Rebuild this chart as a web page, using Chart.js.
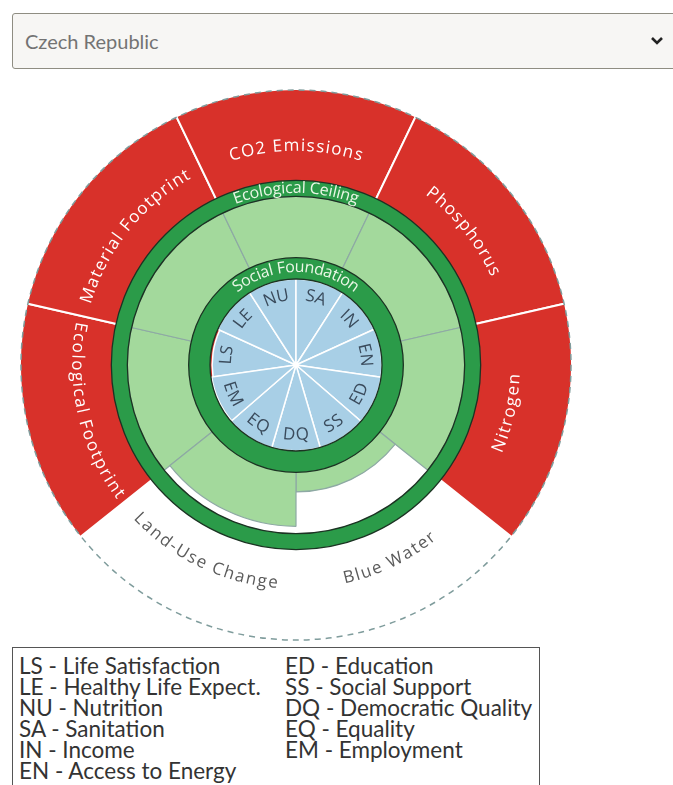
<!DOCTYPE html>
<html>
<head>
<meta charset="utf-8">
<title>Doughnut - Czech Republic</title>
<script src="https://cdn.jsdelivr.net/npm/chart.js@4.4.1/dist/chart.umd.min.js"></script>
<style>
  body { margin: 0; background: #fff; font-family: Lato, "Open Sans", sans-serif; }
  .page { position: relative; width: 673px; height: 785px; overflow: hidden; }
  .country { position: absolute; left: 12px; top: 13px; width: 668px; height: 56px; box-sizing: border-box;
    border: 1.5px solid #8f8d82; border-radius: 3px; background: #f7f6f4; }
  .country span { position: absolute; left: 12px; top: 15px; font-size: 20px; color: #737373; }
  .country svg { position: absolute; left: 637px; top: 21px; }
  #donut { position: absolute; left: 17px; top: 86px; }
  .legend { position: absolute; left: 12px; top: 647px; width: 528px; height: 160px; box-sizing: border-box;
    border: 1px solid #555; padding: 7px 0 0 6px; display: flex; font-size: 22.5px; line-height: 21px; color: #333; }
  .legend .col { flex: none; white-space: nowrap; }
  #legendA { width: 266px; }
</style>
</head>
<body>
<div class="page">
  <div class="country">
    <span>Czech Republic</span>
    <svg width="14" height="12" viewBox="0 0 14 12"><path d="M2 3 L7 8 L12 3" fill="none" stroke="#222" stroke-width="2.6"/></svg>
  </div>
  <canvas id="donut" width="558" height="558"></canvas>
  <div class="legend"><div class="col" id="legendA"></div><div class="col" id="legendB"></div></div>
</div>
<script>
// social foundation, clockwise starting from Life Satisfaction
const socialCodes = ['LS', 'LE', 'NU', 'SA', 'IN', 'EN', 'ED', 'SS', 'DQ', 'EQ', 'EM'];
const socialNames = ['Life Satisfaction', 'Healthy Life Expect.', 'Nutrition', 'Sanitation', 'Income',
  'Access to Energy', 'Education', 'Social Support', 'Democratic Quality', 'Equality', 'Employment'];
// achieved / threshold (1 = social foundation reached)
const socialValues = [0.975, 1.06, 1.1, 1.05, 1.15, 1.1, 1.2, 1.04, 1.08, 1.25, 0.99];

// ecological ceiling, clockwise starting from Ecological Footprint
const ecoNames = ['Ecological Footprint', 'Material Footprint', 'CO2 Emissions', 'Phosphorus',
  'Nitrogen', 'Blue Water', 'Land-Use Change'];
// use / boundary (1 = ecological ceiling)
const ecoValues = [3.2, 3.5, 4.8, 3.0, 3.9, 0.32, 0.88];

const RED = '#d8312a';
const GREEN_DARK = '#2b9b49';
const GREEN_LIGHT = '#a3d99c';
const BLUE = '#a8cfe6';
const NONE = 'rgba(0,0,0,0)';

const ecoMin = -1.75, ecoMax = 2.75;   // 0 sits on the social ring, 1 on the ceiling ring
const socialMax = 3.21;
const socialStart = 360 - 3 * 360 / socialCodes.length;
const ecoStart = 360 - 360 / 14 - 2 * 360 / ecoNames.length;

// legend
const half = 6;
document.getElementById('legendA').innerHTML = socialCodes.slice(0, half)
  .map((c, i) => `<div>${c} - ${socialNames[i]}</div>`).join('');
document.getElementById('legendB').innerHTML = socialCodes.slice(half)
  .map((c, i) => `<div>${c} - ${socialNames[i + half]}</div>`).join('');

function arcText(ctx, text, cx, cy, r, angle, flip, spacing) {
  const chars = [...text];
  const widths = chars.map(ch => ctx.measureText(ch).width);
  const total = widths.reduce((a, b) => a + b, 0) + spacing * (chars.length - 1);
  const dir = flip ? -1 : 1;
  let a = angle - dir * total / (2 * r);
  ctx.textAlign = 'center';
  ctx.textBaseline = 'middle';
  chars.forEach((ch, i) => {
    const mid = a + dir * (widths[i] / 2) / r;
    ctx.save();
    ctx.translate(cx + r * Math.sin(mid), cy - r * Math.cos(mid));
    ctx.rotate(mid + (flip ? Math.PI : 0));
    ctx.fillText(ch, 0, 0);
    ctx.restore();
    a += dir * (widths[i] + spacing) / r;
  });
}

// arc element -> angle measured clockwise from 12 o'clock
const midAngle = el => (el.startAngle + el.endAngle) / 2 + Math.PI / 2;
const isFlipped = a => {
  const n = ((a % (2 * Math.PI)) + 2 * Math.PI) % (2 * Math.PI);
  return n > Math.PI / 2 && n < 3 * Math.PI / 2;
};

function ring(ctx, cx, cy, r1, r2) {
  ctx.beginPath();
  ctx.arc(cx, cy, r2, 0, Math.PI * 2);
  ctx.arc(cx, cy, r1, 0, Math.PI * 2, true);
  ctx.fillStyle = GREEN_DARK;
  ctx.fill();
  ctx.strokeStyle = '#1c3323';
  ctx.lineWidth = 1.3;
  [r1, r2].forEach(r => { ctx.beginPath(); ctx.arc(cx, cy, r, 0, Math.PI * 2); ctx.stroke(); });
}

const decor = {
  id: 'decor',
  afterDatasetsDraw(chart) {
    const ctx = chart.ctx;
    const rs = chart.scales.rs, re = chart.scales.re;
    const cx = re.xCenter, cy = re.yCenter;
    const outer = re.getDistanceFromCenterForValue(ecoMax);
    const ceilIn = re.getDistanceFromCenterForValue(1);
    const ceilOut = ceilIn + 16;
    const foundIn = rs.getDistanceFromCenterForValue(1);
    const foundOut = re.getDistanceFromCenterForValue(0);
    ctx.save();

    ctx.beginPath();
    ctx.setLineDash([6, 5]);
    ctx.strokeStyle = '#7f9c9c';
    ctx.lineWidth = 1.5;
    ctx.arc(cx, cy, outer - 1, 0, Math.PI * 2);
    ctx.stroke();
    ctx.setLineDash([]);

    ring(ctx, cx, cy, ceilIn, ceilOut);
    ring(ctx, cx, cy, foundIn, foundOut);

    // white hub where the social wedges meet
    ctx.beginPath();
    ctx.arc(cx, cy, 2.5, 0, Math.PI * 2);
    ctx.fillStyle = '#ffffff';
    ctx.fill();

    ctx.fillStyle = '#eaf7e6';
    ctx.font = '16px "Open Sans"';
    arcText(ctx, 'Ecological Ceiling', cx, cy, (ceilIn + ceilOut) / 2, 0, false, 0);
    arcText(ctx, 'Social Foundation', cx, cy, (foundIn + foundOut) / 2 + 1, 0, false, 0);

    ctx.font = '17px "Open Sans"';
    chart.getDatasetMeta(3).data.forEach((el, i) => {
      const a = midAngle(el);
      ctx.fillStyle = ecoValues[i] > 1 ? '#fff' : '#5b5b5b';
      arcText(ctx, ecoNames[i], cx, cy, 219, a, isFlipped(a), 1.5);
    });

    ctx.font = '17px "Open Sans"';
    ctx.fillStyle = '#3a4b5c';
    chart.getDatasetMeta(0).data.forEach((el, i) => {
      const a = midAngle(el);
      arcText(ctx, socialCodes[i], cx, cy, 70, a, isFlipped(a), 0.5);
    });
    ctx.restore();
  }
};

new Chart(document.getElementById('donut'), {
  type: 'polarArea',
  data: {
    labels: socialCodes,
    datasets: [
      {
        label: 'Social foundation', rAxisID: 'rs', order: 0,
        data: socialValues.map(v => Math.min(v, 1)),
        backgroundColor: BLUE, borderColor: '#ffffff', borderWidth: 1.5
      },
      {
        label: 'Shortfall', rAxisID: 'rs', order: 1,
        data: socialValues.map(() => 1),
        backgroundColor: socialValues.map(v => v < 1 ? RED : NONE), borderWidth: 0
      },
      {
        label: 'Within ceiling', rAxisID: 're', order: 2,
        data: ecoValues.map(v => Math.min(v, 1)),
        backgroundColor: GREEN_LIGHT, borderColor: '#8ea9a4', borderWidth: 1.2
      },
      {
        label: 'Overshoot', rAxisID: 're', order: 3,
        data: ecoValues.map(v => Math.min(Math.max(v, 1), ecoMax)),
        backgroundColor: ecoValues.map(v => v > 1 ? RED : NONE),
        borderColor: ecoValues.map(v => v > 1 ? '#ffffff' : NONE), borderWidth: 2
      }
    ]
  },
  options: {
    responsive: false,
    animation: false,
    layout: { padding: 3 },
    plugins: { legend: { display: false }, tooltip: { enabled: false } },
    scales: {
      rs: { type: 'radialLinear', axis: 'r', display: false, min: 0, max: socialMax, startAngle: socialStart },
      re: { type: 'radialLinear', axis: 'r', display: false, min: ecoMin, max: ecoMax, startAngle: ecoStart }
    }
  },
  plugins: [decor]
});
</script>
</body>
</html>
